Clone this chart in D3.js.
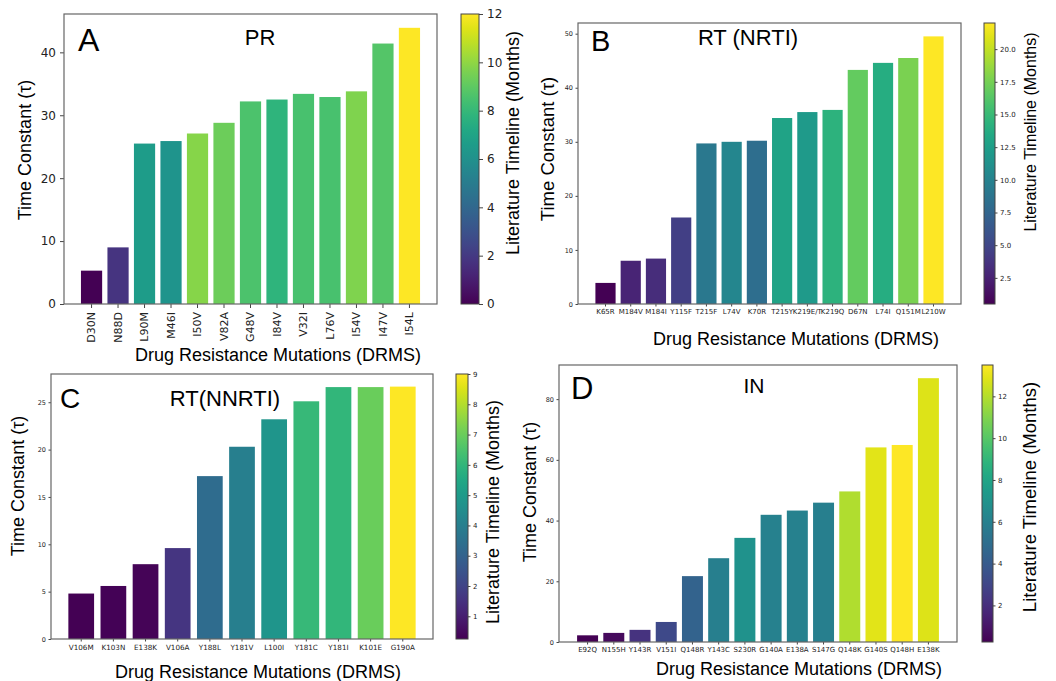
<!DOCTYPE html>
<html>
<head>
<meta charset="utf-8">
<script src="https://cdn.jsdelivr.net/npm/d3@7"></script>
<style>
  body { margin: 0; background: #fff; }
  svg { display: block; }
</style>
</head>
<body>
<svg id="chart" width="1056" height="681"></svg>
<script>

// ---- A: PR ----
var prLabels = ["D30N","N88D","L90M","M46I","I50V","V82A","G48V","I84V","V32I","L76V","I54V","I47V","I54L"];
var prTau    = [5.3, 9.0, 25.5, 25.9, 27.1, 28.8, 32.2, 32.5, 33.4, 32.9, 33.8, 41.4, 43.9];
var prMonths = [0, 1.8, 6.6, 6.2, 9.8, 9.3, 8.6, 7.8, 8.5, 8.5, 9.7, 8.8, 12];

// ---- B: RT (NRTI) ----
var nrtiLabels = ["K65R","M184V","M184I","Y115F","T215F","L74V","K70R","T215Y","K219E/T","K219Q","D67N","L74I","Q151M","L210W"];
var nrtiTau    = [3.9, 8.0, 8.4, 16.0, 29.7, 30.0, 30.2, 34.4, 35.5, 35.9, 43.3, 44.6, 45.5, 49.5];
var nrtiMonths = [0.5, 2.6, 3.2, 4.5, 9.1, 10.4, 8.2, 13.0, 12.1, 14.3, 16.8, 13.8, 17.7, 22];

// ---- C: RT (NNRTI) ----
var nnrtiLabels = ["V106M","K103N","E138K","V106A","Y188L","Y181V","L100I","Y181C","Y181I","K101E","G190A"];
var nnrtiTau    = [4.8, 5.6, 7.9, 9.6, 17.2, 20.3, 23.2, 25.1, 26.6, 26.6, 26.65];
var nnrtiMonths = [0.25, 0.3, 0.35, 1.6, 3.3, 4.0, 4.8, 6.1, 6.0, 7.0, 9];

// ---- D: IN ----
var inLabels = ["E92Q","N155H","Y143R","V151I","Q148R","Y143C","S230R","G140A","E138A","S147G","Q148K","G140S","Q148H","E138K"];
var inTau    = [2.2, 3.0, 4.0, 6.6, 21.7, 27.6, 34.3, 41.9, 43.3, 45.9, 49.6, 64.1, 64.9, 86.9];
var inMonths = [0.25, 0.6, 2.2, 3.2, 4.4, 5.9, 7.0, 6.0, 6.0, 5.9, 11.9, 12.9, 13.5, 12.8];

var yTicksA = [0, 10, 20, 30, 40];
var yTicksB = [0, 10, 20, 30, 40, 50];
var yTicksC = [0, 5, 10, 15, 20, 25];
var yTicksD = [0, 20, 40, 60, 80];
var cTicksA = [0, 2, 4, 6, 8, 10, 12];
var cTicksB = [2.5, 5, 7.5, 10, 12.5, 15, 17.5, 20];
var cTicksC = [1, 2, 3, 4, 5, 6, 7, 8, 9];
var cTicksD = [2, 4, 6, 8, 10, 12];

var yTitle = "Time Constant (\u03c4)";
var xTitle = "Drug Resistance Mutations (DRMS)";
var cTitle = "Literature Timeline (Months)";

var labelFont = "'Liberation Sans', Arial, sans-serif";
var tickFont  = "'DejaVu Sans', sans-serif";

var svg = d3.select("#chart");

// gradient for the colorbars
var defs = svg.append("defs");
var grad = defs.append("linearGradient")
  .attr("id", "viridis")
  .attr("x1", 0).attr("y1", 1).attr("x2", 0).attr("y2", 0);
d3.range(0, 1.0001, 0.05).forEach(function(t){
  grad.append("stop")
    .attr("offset", t)
    .attr("stop-color", d3.interpolateViridis(t));
});

var panels = [
  { labels: prLabels, tau: prTau, months: prMonths, yTicks: yTicksA, cTicks: cTicksA, cFmt: d3.format("d"),
    left: 64, right: 437, top: 14, bottom: 304, cbLeft: 461, cbRight: 479,
    big: true, ySize: 12, xSize: 11, cSize: 12,
    letter: "A", letterX: 78, letterY: 51, letterSize: 32,
    title: "PR", titleX: 260, titleY: 45, titleSize: 22,
    yLabX: 25, yLabY: 150, yLabSize: 18,
    cLabX: 513, cLabY: 143, cLabSize: 18,
    xLabX: 278, xLabY: 361, xLabSize: 18 },
  { labels: nrtiLabels, tau: nrtiTau, months: nrtiMonths, yTicks: yTicksB, cTicks: cTicksB, cFmt: d3.format(".1f"),
    left: 578, right: 961, top: 23, bottom: 304, cbLeft: 984, cbRight: 995,
    big: false, ySize: 6.5, xSize: 7, cSize: 7,
    letter: "B", letterX: 591, letterY: 51, letterSize: 29,
    title: "RT (NRTI)", titleX: 748, titleY: 45, titleSize: 22,
    yLabX: 548, yLabY: 149, yLabSize: 18.5,
    cLabX: 1030, cLabY: 132, cLabSize: 16,
    xLabX: 796, xLabY: 345, xLabSize: 18 },
  { labels: nnrtiLabels, tau: nnrtiTau, months: nnrtiMonths, yTicks: yTicksC, cTicks: cTicksC, cFmt: d3.format("d"),
    left: 51, right: 433, top: 374, bottom: 639, cbLeft: 456, cbRight: 468,
    big: false, ySize: 6.5, xSize: 7.2, cSize: 7,
    letter: "C", letterX: 60, letterY: 408, letterSize: 28,
    title: "RT(NNRTI)", titleX: 225, titleY: 406, titleSize: 22,
    yLabX: 18, yLabY: 486, yLabSize: 18,
    cLabX: 493, cLabY: 512, cLabSize: 18,
    xLabX: 258, xLabY: 678, xLabSize: 18 },
  { labels: inLabels, tau: inTau, months: inMonths, yTicks: yTicksD, cTicks: cTicksD, cFmt: d3.format("d"),
    left: 559, right: 957, top: 365, bottom: 642, cbLeft: 982, cbRight: 993,
    big: false, ySize: 6.5, xSize: 7, cSize: 7,
    letter: "D", letterX: 571, letterY: 399, letterSize: 31,
    title: "IN", titleX: 754, titleY: 393, titleSize: 21,
    yLabX: 530, yLabY: 492, yLabSize: 18,
    cLabX: 1030, cLabY: 497, cLabSize: 18.5,
    xLabX: 799, xLabY: 675, xLabSize: 18 }
];

panels.forEach(drawPanel);

function drawPanel(p){
  var n = p.labels.length;
  var g = svg.append("g");

  // matplotlib style bars: width 0.8, 5% margins
  var x = d3.scaleBand()
    .domain(p.labels)
    .range([p.left, p.right])
    .paddingInner(0.2)
    .paddingOuter(0.05 * (n - 0.2));

  var y = d3.scaleLinear()
    .domain([0, d3.max(p.tau) * 1.05])
    .range([p.bottom, p.top]);

  var ext = d3.extent(p.months);
  var color = d3.scaleSequential(d3.interpolateViridis).domain(ext);

  // bars
  g.append("g")
    .selectAll("rect")
    .data(p.labels)
    .enter()
    .append("rect")
    .attr("x", function(d){ return x(d); })
    .attr("width", x.bandwidth())
    .attr("y", function(d,i){ return y(p.tau[i]); })
    .attr("height", function(d,i){ return p.bottom - y(p.tau[i]); })
    .attr("fill", function(d,i){ return color(p.months[i]); });

  var tickLen = p.big ? 4 : 2.5;

  // y axis
  var yAxis = g.append("g")
    .attr("transform", "translate(" + p.left + ",0)")
    .call(d3.axisLeft(y).tickValues(p.yTicks).tickSize(tickLen).tickPadding(p.big ? 4 : 2.5).tickFormat(d3.format("d")));
  yAxis.select(".domain").remove();
  yAxis.selectAll("line").attr("stroke", "#444");
  yAxis.selectAll("text")
    .attr("font-family", tickFont)
    .attr("font-size", p.ySize)
    .attr("fill", "#222");

  // x axis
  var xAxis = g.append("g")
    .attr("transform", "translate(0," + p.bottom + ")")
    .call(d3.axisBottom(x).tickSize(tickLen).tickPadding(p.big ? 4 : 3));
  xAxis.select(".domain").remove();
  xAxis.selectAll("line").attr("stroke", "#444");
  var xt = xAxis.selectAll("text")
    .attr("font-family", tickFont)
    .attr("font-size", p.xSize)
    .attr("fill", "#222");
  if (p.big){
    xt.attr("transform", "rotate(-90)")
      .attr("text-anchor", "end")
      .attr("x", -(tickLen + 4))
      .attr("y", 0)
      .attr("dy", "0.35em");
  }

  // frame
  g.append("rect")
    .attr("x", p.left).attr("y", p.top)
    .attr("width", p.right - p.left)
    .attr("height", p.bottom - p.top)
    .attr("fill", "none")
    .attr("stroke", "#666")
    .attr("stroke-width", 1.2);

  // colorbar
  var cy = d3.scaleLinear().domain(ext).range([p.bottom, p.top]);
  g.append("rect")
    .attr("x", p.cbLeft).attr("y", p.top)
    .attr("width", p.cbRight - p.cbLeft)
    .attr("height", p.bottom - p.top)
    .attr("fill", "url(#viridis)")
    .attr("stroke", "#444")
    .attr("stroke-width", 1);
  var cAxis = g.append("g")
    .attr("transform", "translate(" + p.cbRight + ",0)")
    .call(d3.axisRight(cy).tickValues(p.cTicks).tickSize(tickLen).tickPadding(p.big ? 4 : 2.5).tickFormat(p.cFmt));
  cAxis.select(".domain").remove();
  cAxis.selectAll("line").attr("stroke", "#444");
  cAxis.selectAll("text")
    .attr("font-family", tickFont)
    .attr("font-size", p.cSize)
    .attr("fill", "#222");

  // panel letter and title
  g.append("text")
    .attr("x", p.letterX).attr("y", p.letterY)
    .attr("font-family", labelFont)
    .attr("font-size", p.letterSize)
    .text(p.letter);
  g.append("text")
    .attr("x", p.titleX).attr("y", p.titleY)
    .attr("text-anchor", "middle")
    .attr("font-family", labelFont)
    .attr("font-size", p.titleSize)
    .text(p.title);

  // axis titles
  g.append("text")
    .attr("transform", "translate(" + p.yLabX + "," + p.yLabY + ") rotate(-90)")
    .attr("text-anchor", "middle")
    .attr("dy", "0.35em")
    .attr("font-family", labelFont)
    .attr("font-size", p.yLabSize)
    .text(yTitle);
  g.append("text")
    .attr("transform", "translate(" + p.cLabX + "," + p.cLabY + ") rotate(-90)")
    .attr("text-anchor", "middle")
    .attr("dy", "0.35em")
    .attr("font-family", labelFont)
    .attr("font-size", p.cLabSize)
    .text(cTitle);
  g.append("text")
    .attr("x", p.xLabX).attr("y", p.xLabY)
    .attr("text-anchor", "middle")
    .attr("font-family", labelFont)
    .attr("font-size", p.xLabSize)
    .text(xTitle);
}

</script>
</body>
</html>
